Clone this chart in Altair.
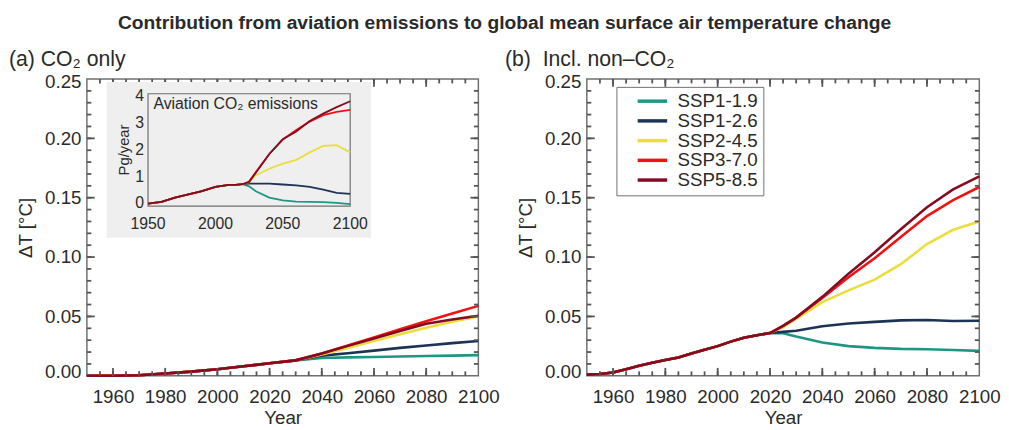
import altair as alt
import pandas as pd

SCEN = ["SSP1-1.9", "SSP1-2.6", "SSP2-4.5", "SSP3-7.0", "SSP5-8.5"]
COLORS = ["#1E9684", "#1D3354", "#EADD3D", "#F21111", "#840B22"]

# ---------------- (a) CO2 only : Delta T [degC]
a_years_common = [1950, 1960, 1970, 1980, 1990, 2000, 2010, 2020, 2030]
a_dt_common = [0.0, 0.0, 0.0005, 0.002, 0.0035, 0.0055, 0.008, 0.0105, 0.013]
a_years_future = [2040, 2050, 2060, 2070, 2080, 2090, 2100]
a_ssp119 = [0.0150, 0.0155, 0.0158, 0.0162, 0.0166, 0.0170, 0.0174]
a_ssp126 = [0.0170, 0.0190, 0.0212, 0.0235, 0.0256, 0.0275, 0.0293]
a_ssp245 = [0.0180, 0.0235, 0.0293, 0.0350, 0.0405, 0.0455, 0.0500]
a_ssp370 = [0.0188, 0.0255, 0.0322, 0.0392, 0.0460, 0.0525, 0.0589]
a_ssp585 = [0.0187, 0.0252, 0.0315, 0.0378, 0.0438, 0.0475, 0.0506]

# ---------------- (b) incl. non-CO2 : Delta T [degC]
b_years_common = [1950, 1955, 1960, 1965, 1970, 1975, 1980, 1985, 1990, 1995,
                  2000, 2005, 2010, 2015, 2020]
b_dt_common = [0.001, 0.0015, 0.0028, 0.0055, 0.0085, 0.011, 0.0133, 0.0154,
               0.0188, 0.022, 0.025, 0.0288, 0.032, 0.0342, 0.036]
b_years_future = [2025, 2030, 2040, 2050, 2060, 2070, 2080, 2090, 2100]
b_ssp119 = [0.0358, 0.033, 0.028, 0.025, 0.0235, 0.0227, 0.0224, 0.0218, 0.021]
b_ssp126 = [0.037, 0.038, 0.0417, 0.044, 0.0454, 0.0467, 0.047, 0.0462, 0.0464]
b_ssp245 = [0.041, 0.048, 0.062, 0.072, 0.081, 0.094, 0.111, 0.123, 0.130]
b_ssp370 = [0.042, 0.049, 0.0655, 0.083, 0.099, 0.117, 0.1345, 0.148, 0.159]
b_ssp585 = [0.042, 0.049, 0.0665, 0.086, 0.104, 0.1235, 0.142, 0.157, 0.168]

# ---------------- inset: aviation CO2 emissions [Pg/year]
i_years_common = [1950, 1960, 1970, 1980, 1990, 2000, 2010, 2015, 2020]
i_em_common = [0.0, 0.06, 0.22, 0.34, 0.46, 0.62, 0.70, 0.70, 0.72]
i_years_future = [2025, 2030, 2040, 2050, 2060, 2070, 2080, 2090, 2100]
i_ssp119 = [0.64, 0.46, 0.22, 0.12, 0.07, 0.06, 0.05, 0.02, -0.02]
i_ssp126 = [0.74, 0.74, 0.74, 0.71, 0.68, 0.62, 0.52, 0.40, 0.36]
i_ssp245 = [0.80, 1.06, 1.30, 1.49, 1.63, 1.91, 2.15, 2.18, 1.91]
i_ssp370 = [0.82, 1.18, 1.85, 2.39, 2.75, 3.06, 3.30, 3.42, 3.50]
i_ssp585 = [0.80, 1.15, 1.85, 2.40, 2.69, 3.08, 3.36, 3.60, 3.82]
inset_label = ["Aviation CO₂ emissions"]
inset_label_year = [1954]
inset_label_value = [3.72]
inset_x_ticks = [1950, 2000, 2050, 2100]
inset_y_ticks = [0, 1, 2, 3, 4]
inset_ytitle = ["Pg/year"]

x_major = [1960, 1980, 2000, 2020, 2040, 2060, 2080]
x_minor = list(range(1955, 2100, 5))
x_labels = [1960, 1980, 2000, 2020, 2040, 2060, 2080, 2100]
y_major = [0.05, 0.10, 0.15, 0.20]
y_minor = [round(0.01 * k, 2) for k in range(1, 25)]
y_labels = [0.00, 0.05, 0.10, 0.15, 0.20, 0.25]

TITLE = "Contribution from aviation emissions to global mean surface air temperature change"

FONT = "Liberation Sans"
GRAY = "#707070"
TICK = "#555555"
TXT = "#2a2a2a"
W, H = 397, 301
X_DOM = [1950, 2100]
Y_DOM = [0.0, 0.25]
MAJ, MIN = 8, 4.5
XPX = (X_DOM[1] - X_DOM[0]) / W      # years per pixel
YPX = (Y_DOM[1] - Y_DOM[0]) / H      # degC per pixel


def build(cy, cv, fy, series):
    rows = []
    for s, vals in zip(SCEN, series):
        for y, v in zip(cy, cv):
            rows.append((s, y, v, s, "series"))
        for y, v in zip(fy, vals):
            rows.append((s, y, v, s, "series"))
    return pd.DataFrame(rows, columns=["scenario", "year", "value", "gid", "kind"])


def frame_ticks():
    # inward ticks on all four sides of a panel, as short 2-point segments
    rows, tid = [], 0
    for vals, ln in ((x_major, MAJ), (x_minor, MIN)):
        for v in vals:
            for base, sgn in ((Y_DOM[0], 1), (Y_DOM[1], -1)):
                g = "t%d" % tid
                rows += [("tick", v, base, g, "tick"),
                         ("tick", v, base + sgn * ln * YPX, g, "tick")]
                tid += 1
    for vals, ln in ((y_major, MAJ), (y_minor, MIN)):
        for v in vals:
            for base, sgn in ((X_DOM[0], 1), (X_DOM[1], -1)):
                g = "t%d" % tid
                rows += [("tick", base, v, g, "tick"),
                         ("tick", base + sgn * ln * XPX, v, g, "tick")]
                tid += 1
    return pd.DataFrame(rows, columns=["scenario", "year", "value", "gid", "kind"])


df_ticks = frame_ticks()
df_a = pd.concat([build(a_years_common, a_dt_common, a_years_future,
                        [a_ssp119, a_ssp126, a_ssp245, a_ssp370, a_ssp585]), df_ticks],
                 ignore_index=True)
df_b = pd.concat([build(b_years_common, b_dt_common, b_years_future,
                        [b_ssp119, b_ssp126, b_ssp245, b_ssp370, b_ssp585]), df_ticks],
                 ignore_index=True)
df_i = build(i_years_common, i_em_common, i_years_future,
             [i_ssp119, i_ssp126, i_ssp245, i_ssp370, i_ssp585])
one = pd.DataFrame({"k": [0]})

xscale = alt.Scale(domain=X_DOM, nice=False, zero=False)
yscale = alt.Scale(domain=Y_DOM, nice=False, zero=False)
cscale = alt.Scale(domain=SCEN + ["tick"], range=COLORS + [TICK])
wscale = alt.Scale(domain=["series", "tick"], range=[2.6, 1.8])


def main_panel(df, legend):
    return alt.Chart(df).mark_line().encode(
        x=alt.X("year:Q", scale=xscale,
                axis=alt.Axis(orient="bottom", values=x_labels, format="d",
                              ticks=False, domain=False, grid=False,
                              labelFlush=False, labelFontSize=19,
                              labelPadding=12, title="Year", titleFontSize=19,
                              titleFontWeight="normal", titlePadding=2)),
        y=alt.Y("value:Q", scale=yscale,
                axis=alt.Axis(orient="left", values=y_labels, format=".2f",
                              ticks=False, domain=False, grid=False,
                              labelFlush=True, labelFlushOffset=6,
                              labelFontSize=19, labelPadding=6,
                              title="ΔT [°C]", titleFontSize=19,
                              titleFontWeight="normal", titlePadding=9)),
        color=alt.Color("scenario:N", scale=cscale, legend=legend),
        strokeWidth=alt.StrokeWidth("kind:N", scale=wscale, legend=None),
        detail="gid:N",
    )


# ---------------- inset
IX0, IX1, IY0, IY1 = 62, 267, 15, 129
I_YDOM = [-0.1, 4.1]
IXPX = (X_DOM[1] - X_DOM[0]) / (IX1 - IX0)
IYPX = (I_YDOM[1] - I_YDOM[0]) / (IY1 - IY0)
ixscale = alt.Scale(domain=X_DOM, range=[IX0, IX1], nice=False, zero=False)
iyscale = alt.Scale(domain=I_YDOM, range=[IY1, IY0], nice=False, zero=False)

df_ixlab = pd.DataFrame({"year": inset_x_ticks,
                         "value": [I_YDOM[0] - 18 * IYPX] * len(inset_x_ticks),
                         "label": [str(v) for v in inset_x_ticks]})
df_iylab = pd.DataFrame({"year": [X_DOM[0] - 4 * IXPX] * len(inset_y_ticks),
                         "value": inset_y_ticks,
                         "label": [str(v) for v in inset_y_ticks]})
df_iytitle = pd.DataFrame({"year": [X_DOM[0] - 24 * IXPX], "value": [2.0],
                           "label": inset_ytitle})
df_lbl = pd.DataFrame({"year": inset_label_year, "value": inset_label_value,
                       "label": inset_label})


def itext(df, **kw):
    return alt.Chart(df).mark_text(font=FONT, color=TXT, **kw).encode(
        x=alt.X("year:Q", scale=ixscale, axis=None),
        y=alt.Y("value:Q", scale=iyscale, axis=None),
        text="label:N",
    )


inset_bg = alt.Chart(one).mark_rect(color="#efefef").encode(
    x=alt.value(20), x2=alt.value(288), y=alt.value(3), y2=alt.value(161))
inset_frame = alt.Chart(one).mark_rect(fillOpacity=0, stroke=GRAY, strokeWidth=1.2).encode(
    x=alt.value(IX0), x2=alt.value(IX1), y=alt.value(IY0), y2=alt.value(IY1))
inset_lines = alt.Chart(df_i).mark_line(strokeWidth=1.8).encode(
    x=alt.X("year:Q", scale=ixscale, axis=None),
    y=alt.Y("value:Q", scale=iyscale, axis=None),
    color=alt.Color("scenario:N", scale=alt.Scale(domain=SCEN, range=COLORS),
                    legend=None),
)
inset = alt.layer(
    inset_bg, inset_frame, inset_lines,
    itext(df_lbl, align="left", baseline="middle", fontSize=16),
    itext(df_ixlab, align="center", baseline="middle", fontSize=16),
    itext(df_iylab, align="right", baseline="middle", fontSize=16),
    itext(df_iytitle, align="center", baseline="middle", fontSize=15, angle=270),
)

panel_a = alt.layer(main_panel(df_a, None), inset).resolve_scale(
    x="independent", y="independent").properties(
    width=W, height=H,
    title=alt.TitleParams("(a) CO₂ only", anchor="start", frame="bounds",
                          fontSize=21.5, fontWeight="normal", dx=-8, offset=3))

legend_b = alt.Legend(orient="none", legendX=30, legendY=8, title=None,
                      values=SCEN,
                      symbolType="M-2.3,0L2.3,0", symbolSize=169,
                      symbolStrokeWidth=3.5, symbolOffset=22, labelOffset=16,
                      labelFontSize=19, labelFont=FONT, labelColor=TXT,
                      strokeColor=GRAY, padding=5, rowPadding=-2,
                      fillColor="white")
panel_b = main_panel(df_b, legend_b).properties(
    width=W + 1, height=H,
    title=alt.TitleParams("(b)\u00a0 Incl. non–CO₂", anchor="start", frame="bounds",
                          fontSize=21.5, fontWeight="normal", dx=-12, offset=3))

chart = alt.hconcat(panel_a, panel_b, spacing=4).resolve_scale(
    color="independent").resolve_legend(color="independent").properties(
    title=alt.TitleParams(TITLE, fontSize=19.5, fontWeight="bold", anchor="middle",
                          offset=15),
    padding={"left": 0, "top": 2, "right": 0, "bottom": 0},
).configure_view(stroke=GRAY, strokeWidth=1.5).configure_axis(
    labelFont=FONT, titleFont=FONT, labelColor=TXT, titleColor=TXT
).configure_title(font=FONT, color=TXT)

chart.save("out.html", embed_options={"renderer": "svg", "actions": False})
